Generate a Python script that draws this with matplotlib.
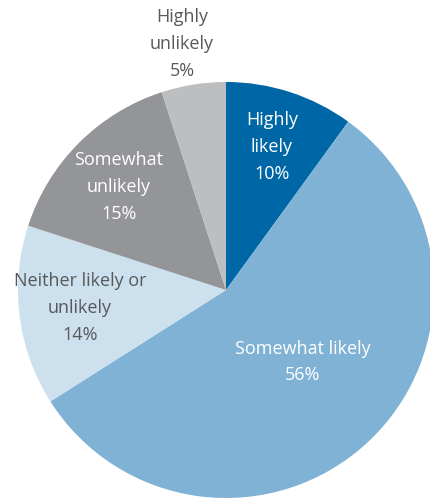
import matplotlib
matplotlib.use("Agg")
import matplotlib.pyplot as plt

categories = ["Highly likely", "Somewhat likely", "Neither likely or unlikely",
              "Somewhat unlikely", "Highly unlikely"]
values = [10, 56, 14, 15, 5]
label_texts = ["Highly\nlikely\n10%", "Somewhat likely\n56%",
               "Neither likely or\nunlikely\n14%", "Somewhat\nunlikely\n15%",
               "Highly\nunlikely\n5%"]
colors = ["#0067a6", "#7fb2d5", "#cce0ee", "#939598", "#bcbec0"]
text_colors = ["white", "white", "#58595b", "white", "#58595b"]
label_pos = [(272, 147), (303, 362), (80, 308), (119, 187), (182, 44)]

W, H = 430, 501
fig = plt.figure(figsize=(W / 100, H / 100), dpi=100)
ax = fig.add_axes([0, 0, 1, 1])
ax.pie(values, colors=colors, startangle=90, counterclock=False,
       center=(226, H - 290), radius=208, frame=True,
       wedgeprops=dict(linewidth=0))
ax.set_xlim(0, W)
ax.set_ylim(0, H)
ax.set_aspect("equal")
ax.axis("off")

for txt, col, (x, y) in zip(label_texts, text_colors, label_pos):
    ax.text(x, H - y, txt, ha="center", va="center", color=col,
            fontsize=13, family="Open Sans", linespacing=1.62)

fig.savefig("out.png", dpi=100)
